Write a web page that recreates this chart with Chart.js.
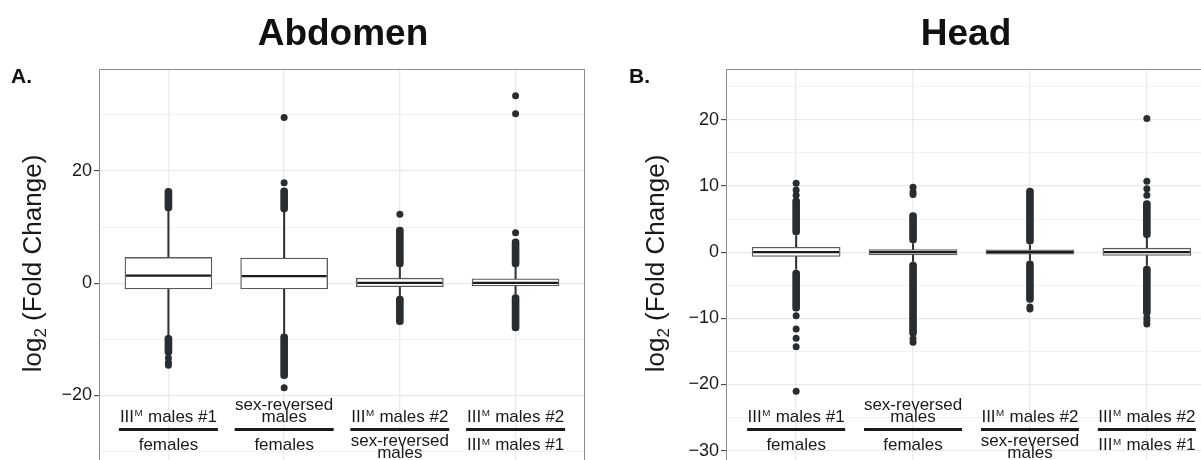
<!DOCTYPE html>
<html>
<head>
<meta charset="utf-8">
<script src="https://cdn.jsdelivr.net/npm/chart.js@4.4.0/dist/chart.umd.min.js"></script>
<style>
  html, body { margin: 0; padding: 0; background: #fff; overflow: hidden; }
  #wrap { position: relative; width: 1201px; height: 460px; overflow: hidden; }
  .panel { position: absolute; top: 0; height: 460px; overflow: hidden; }
  #left { left: 0; width: 600px; }
  #right { left: 600px; width: 601px; }
</style>
</head>
<body>
<div id="wrap">
  <div class="panel" id="left"><canvas id="abdomenChart" width="600" height="467"></canvas></div>
  <div class="panel" id="right"><canvas id="headChart" width="640" height="467"></canvas></div>
</div>
<script>
// comparison labels (numerator over denominator), "^M" = superscript M
const numerators = ['III^M males #1', 'sex-reversed\nmales', 'III^M males #2', 'III^M males #2'];
const denominators = ['females', 'females', 'sex-reversed\nmales', 'III^M males #1'];

// Abdomen
const abdQ1 = [-1.0, -1.0, -0.6, -0.5];
const abdMedian = [1.35, 1.25, 0.05, 0.05];
const abdQ3 = [4.6, 4.5, 0.9, 0.8];
const abdWhiskerLow = [-9.3, -9.0, -2.3, -2.0];
const abdWhiskerHigh = [12.9, 12.7, 2.9, 2.9];
const abdDenseHigh = [[12.9, 16.9], [12.7, 17.0], [2.9, 10.0], [2.9, 7.9]];
const abdDenseLow = [[-12.8, -9.3], [-17.0, -9.0], [-7.4, -2.3], [-8.5, -2.0]];
const abdOutliers = [
  [-13.3, -14.1, -14.6],
  [17.9, 29.5, -18.6],
  [12.3],
  [9.0, 30.2, 33.4]
];
const abdTicks = [-20, 0, 20];

// Head
const headQ1 = [-0.65, -0.4, -0.3, -0.5];
const headMedian = [0, 0, 0, 0];
const headQ3 = [0.75, 0.4, 0.35, 0.6];
const headWhiskerLow = [-2.6, -1.4, -1.2, -2.0];
const headWhiskerHigh = [2.5, 1.3, 1.1, 2.1];
const headDenseHigh = [[2.6, 8.2], [1.4, 6.0], [1.2, 9.7], [2.2, 7.8]];
const headDenseLow = [[-8.9, -2.7], [-12.7, -1.5], [-7.6, -1.3], [-9.6, -2.1]];
const headOutliers = [
  [8.6, 9.4, 10.4, -9.6, -11.6, -13.0, -14.3, -21.0],
  [8.7, 9.1, 9.8, -13.1, -13.6],
  [-8.3, -8.6],
  [8.6, 9.6, 10.7, 20.2, -9.9, -10.4, -10.85]
];
const headTicks = [-30, -20, -10, 0, 10, 20];

const FONT = '"Liberation Sans", Arial, Helvetica, sans-serif';
const DOT = '#2a2d2f';

function drawRich(ctx, text, cx, baseline, size) {
  ctx.font = size + 'px ' + FONT;
  if (text.indexOf('^M') < 0) {
    ctx.textAlign = 'center';
    ctx.fillText(text, cx, baseline);
    return;
  }
  const parts = text.split('^M');
  const supSize = size * 0.58;
  const w1 = ctx.measureText(parts[0]).width;
  const w3 = ctx.measureText(parts[1]).width;
  ctx.font = supSize + 'px ' + FONT;
  const w2 = ctx.measureText('M').width + 1;
  const x0 = cx - (w1 + w2 + w3) / 2;
  ctx.textAlign = 'left';
  ctx.font = size + 'px ' + FONT;
  ctx.fillText(parts[0], x0, baseline);
  ctx.font = supSize + 'px ' + FONT;
  ctx.fillText('M', x0 + w1 + 0.5, baseline - size * 0.31);
  ctx.font = size + 'px ' + FONT;
  ctx.fillText(parts[1], x0 + w1 + w2, baseline);
}

function buildPanel(id, p) {
  const ranges = (lo, hi) => lo.map((l, i) => ({ x: i + 1, y: [l, hi[i]] }));
  const pairs = arr => arr.map((r, i) => ({ x: i + 1, y: r }));
  const pts = arr => arr.flatMap((vals, i) => vals.map(v => ({ x: i + 1, y: v })));
  const isMajor = v => p.ticks.indexOf(v) >= 0;

  const decor = {
    id: 'decor_' + id,
    afterDatasetsDraw(chart) {
      const { ctx, chartArea: a, scales: { x, y } } = chart;
      ctx.save();
      // medians
      ctx.strokeStyle = '#1c1c1c';
      ctx.lineWidth = 2.2;
      p.median.forEach((m, i) => {
        const cx = x.getPixelForValue(i + 1);
        const py = y.getPixelForValue(m);
        ctx.beginPath();
        ctx.moveTo(cx - p.boxWidth / 2 + 1, py);
        ctx.lineTo(cx + p.boxWidth / 2 - 1, py);
        ctx.stroke();
      });
      // comparison labels inside the panel
      ctx.fillStyle = '#1a1a1a';
      ctx.textBaseline = 'alphabetic';
      numerators.forEach((num, i) => {
        const cx = x.getPixelForValue(i + 1);
        const nl = num.split('\n');
        const nb = nl.length === 1 ? [421.5] : [410, 422];
        nl.forEach((t, k) => drawRich(ctx, t, cx, nb[k], 17));
        ctx.fillRect(cx - p.rule / 2, 428, p.rule, 3);
        const dl = denominators[i].split('\n');
        const db = dl.length === 1 ? [450] : [446, 458];
        dl.forEach((t, k) => drawRich(ctx, t, cx, db[k], 17));
      });
      // panel border
      ctx.strokeStyle = '#8c8c8c';
      ctx.lineWidth = 1;
      ctx.strokeRect(a.left + 0.5, a.top + 0.5, a.width - 1, a.height - 1);
      ctx.restore();
    },
    afterDraw(chart) {
      const ctx = chart.ctx;
      ctx.save();
      ctx.fillStyle = '#111';
      ctx.textBaseline = 'alphabetic';
      ctx.textAlign = 'center';
      ctx.font = 'bold 37px ' + FONT;
      ctx.fillText(p.title, p.titleX, 45);
      ctx.textAlign = 'left';
      ctx.font = 'bold 21px ' + FONT;
      ctx.fillText(p.letter, p.letterX, 83);
      // y axis title: log2 (Fold Change)
      ctx.translate(p.yTitleX, 263.5);
      ctx.rotate(-Math.PI / 2);
      ctx.font = '26px ' + FONT;
      const w1 = ctx.measureText('log').width;
      const w3 = ctx.measureText(' (Fold Change)').width;
      ctx.font = '17px ' + FONT;
      const w2 = ctx.measureText('2').width;
      const x0 = -(w1 + w2 + w3) / 2;
      ctx.fillStyle = '#1a1a1a';
      ctx.font = '26px ' + FONT;
      ctx.fillText('log', x0, 7);
      ctx.font = '17px ' + FONT;
      ctx.fillText('2', x0 + w1, 12);
      ctx.font = '26px ' + FONT;
      ctx.fillText(' (Fold Change)', x0 + w1 + w2, 7);
      ctx.restore();
    }
  };

  return new Chart(document.getElementById(id), {
    type: 'bar',
    data: {
      datasets: [
        { type: 'bar', label: 'box', data: ranges(p.q1, p.q3), backgroundColor: '#ffffff',
          borderColor: '#5a5a5a', borderWidth: 1.3, borderSkipped: false,
          barThickness: p.boxWidth, grouped: false, order: 1 },
        { type: 'line', label: 'outliers', data: pts(p.outliers), showLine: false,
          pointRadius: 3.5, pointBackgroundColor: DOT, pointBorderWidth: 0, order: 2 },
        { type: 'bar', label: 'dense high', data: pairs(p.denseHigh), backgroundColor: DOT,
          barThickness: 7, borderRadius: 3.5, borderSkipped: false, grouped: false, order: 3 },
        { type: 'bar', label: 'dense low', data: pairs(p.denseLow), backgroundColor: DOT,
          barThickness: 7, borderRadius: 3.5, borderSkipped: false, grouped: false, order: 3 },
        { type: 'bar', label: 'whisker', data: ranges(p.wLo, p.wHi), backgroundColor: '#333333',
          barThickness: 1.4, grouped: false, order: 4 }
      ]
    },
    options: {
      responsive: false,
      animation: false,
      devicePixelRatio: 1,
      layout: { padding: { left: p.padLeft, right: p.padRight, top: 69, bottom: 0 } },
      plugins: { legend: { display: false }, tooltip: { enabled: false } },
      scales: {
        x: {
          type: 'linear', min: 0.4, max: 4.6, offset: false,
          afterBuildTicks: s => { s.ticks = [1, 2, 3, 4].map(v => ({ value: v })); },
          afterFit: s => { s.height = 0; s.paddingLeft = 0; s.paddingRight = 0; },
          ticks: { display: false },
          grid: { color: '#ebebeb', lineWidth: 1.3, drawTicks: false, offset: false },
          border: { display: false }
        },
        y: {
          min: p.yMin, max: p.yMax,
          afterBuildTicks: s => { s.ticks = p.grid.map(v => ({ value: v })); },
          afterFit: s => { s.width = 40; s.paddingTop = 0; s.paddingBottom = 0; },
          ticks: {
            callback: v => isMajor(v) ? (v < 0 ? '\u2212' + Math.abs(v) : String(v)) : '',
            font: { size: 18, family: FONT }, color: '#1a1a1a', padding: 2
          },
          grid: {
            color: c => isMajor(c.tick.value) ? '#e9e9e9' : '#f2f2f2',
            lineWidth: c => isMajor(c.tick.value) ? 1.3 : 1,
            tickColor: c => isMajor(c.tick.value) ? '#333333' : 'rgba(0,0,0,0)',
            tickLength: 5, tickWidth: 1
          },
          border: { display: true, color: '#8c8c8c', width: 1 }
        }
      }
    },
    plugins: [decor]
  });
}

buildPanel('abdomenChart', {
  title: 'Abdomen', titleX: 343, letter: 'A.', letterX: 11, yTitleX: 34,
  padLeft: 59, padRight: 15, yMin: -32.02, yMax: 38.16,
  grid: [-30, -20, -10, 0, 10, 20, 30], ticks: abdTicks,
  boxWidth: 87, rule: 99,
  q1: abdQ1, q3: abdQ3, median: abdMedian, wLo: abdWhiskerLow, wHi: abdWhiskerHigh,
  denseHigh: abdDenseHigh, denseLow: abdDenseLow, outliers: abdOutliers
});

buildPanel('headChart', {
  title: 'Head', titleX: 366, letter: 'B.', letterX: 29, yTitleX: 57,
  padLeft: 86, padRight: 23, yMin: -31.86, yMax: 27.68,
  grid: [-30, -25, -20, -15, -10, -5, 0, 5, 10, 15, 20, 25], ticks: headTicks,
  boxWidth: 88, rule: 98,
  q1: headQ1, q3: headQ3, median: headMedian, wLo: headWhiskerLow, wHi: headWhiskerHigh,
  denseHigh: headDenseHigh, denseLow: headDenseLow, outliers: headOutliers
});
</script>
</body>
</html>
